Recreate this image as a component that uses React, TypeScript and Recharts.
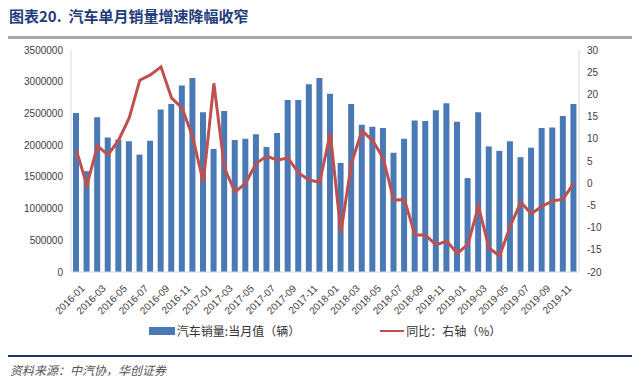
import { ComposedChart, Bar, Line, XAxis, YAxis, Legend } from "recharts"

const months = [
  "2016-01", "2016-02", "2016-03", "2016-04", "2016-05", "2016-06", "2016-07", "2016-08", "2016-09", "2016-10", "2016-11", "2016-12",
  "2017-01", "2017-02", "2017-03", "2017-04", "2017-05", "2017-06", "2017-07", "2017-08", "2017-09", "2017-10", "2017-11", "2017-12",
  "2018-01", "2018-02", "2018-03", "2018-04", "2018-05", "2018-06", "2018-07", "2018-08", "2018-09", "2018-10", "2018-11", "2018-12",
  "2019-01", "2019-02", "2019-03", "2019-04", "2019-05", "2019-06", "2019-07", "2019-08", "2019-09", "2019-10", "2019-11", "2019-12",
]

// 汽车销量:当月值（辆）
const sales = [
  2506000, 1590000, 2440000, 2120000, 2090000, 2060000, 1850000, 2070000, 2560000, 2650000, 2940000, 3060000,
  2520000, 1940000, 2540000, 2080000, 2100000, 2170000, 1970000, 2190000, 2710000, 2710000, 2960000, 3060000,
  2810000, 1720000, 2650000, 2320000, 2290000, 2270000, 1880000, 2100000, 2390000, 2380000, 2550000, 2660000,
  2370000, 1480000, 2520000, 1980000, 1910000, 2060000, 1810000, 1960000, 2270000, 2280000, 2460000, 2650000,
]

// 同比（%）
const yoy = [
  7.5, -0.5, 8.4, 6.4, 9.7, 14.7, 23.2, 24.4, 26.2, 19.2, 16.9, 10.4,
  0.2, 22.5, 3.4, -2.0, 0.0, 4.5, 6.1, 5.2, 5.7, 2.3, 0.7, 0.2,
  11.3, -11.1, 4.5, 11.8, 9.6, 5.6, -3.8, -3.7, -11.6, -11.7, -13.9, -13.0,
  -15.8, -13.8, -5.2, -14.6, -16.4, -9.7, -4.3, -6.9, -5.2, -4.0, -3.6, 0.0,
]

const leftTicks = [0, 500000, 1000000, 1500000, 2000000, 2500000, 3000000, 3500000]
const rightTicks = [-20, -15, -10, -5, 0, 5, 10, 15, 20, 25, 30]

const data = months.map((m, i) => ({ month: m, sales: sales[i], yoy: yoy[i] }))

const BLUE = "#4a7ab5"
const RED = "#c0504d"
const tickFont = { fontSize: 10, fill: "#404040", fontFamily: "Liberation Sans, Arial, sans-serif" }

const XTick = ({ x, y, payload }: any) => (
  <text
    x={x + 4}
    y={y + 4}
    transform={`rotate(-45 ${x + 4} ${y + 4})`}
    textAnchor="end"
    dominantBaseline="hanging"
    {...tickFont}
  >
    {payload.value}
  </text>
)

const LegendContent = () => (
  <div
    style={{
      display: "flex",
      justifyContent: "center",
      alignItems: "center",
      fontFamily: "Noto Sans CJK SC, sans-serif",
      fontSize: 12,
      color: "#333",
      paddingLeft: 50,
    }}
  >
    <span style={{ display: "inline-block", width: 26, height: 8, background: BLUE, marginRight: 2 }} />
    <span>汽车销量:当月值（辆）</span>
    <span style={{ display: "inline-block", width: 24, height: 2, background: RED, marginLeft: 80, marginRight: 2 }} />
    <span>同比：右轴（%）</span>
  </div>
)

export default function App() {
  return (
    <div style={{ position: "absolute", top: 0, left: 0, width: 640, height: 389, background: "#fff" }}>
      <div
        style={{
          position: "absolute",
          left: 9,
          top: 5,
          fontFamily: "Noto Sans CJK SC, sans-serif",
          fontWeight: 700,
          fontSize: 15,
          color: "#1f3d7a",
          whiteSpace: "nowrap",
        }}
      >
        图表20.&nbsp; 汽车单月销量增速降幅收窄
      </div>
      <div style={{ position: "absolute", left: 8, top: 36, width: 624, height: 3, background: "#a6a6a6" }} />

      <div style={{ position: "absolute", left: 0, top: 40 }}>
        <ComposedChart width={640} height={310} data={data} margin={{ top: 10, right: 46, bottom: 6, left: 6 }} barCategoryGap="45%">
          <XAxis
            dataKey="month"
            interval={1}
            tick={<XTick />}
            tickLine={false}
            axisLine={{ stroke: "#d9d9d9" }}
            height={50}
          />
          <YAxis
            yAxisId="left"
            domain={[0, 3500000]}
            ticks={leftTicks}
            tick={tickFont}
            tickLine={false}
            axisLine={{ stroke: "#d9d9d9" }}
            width={65}
            interval={0}
          />
          <YAxis
            yAxisId="right"
            orientation="right"
            domain={[-20, 30]}
            ticks={rightTicks}
            tick={tickFont}
            tickLine={false}
            axisLine={{ stroke: "#d9d9d9" }}
            width={15}
            interval={0}
          />
          <Legend verticalAlign="bottom" height={22} content={<LegendContent />} />
          <Bar yAxisId="left" dataKey="sales" fill={BLUE} barSize={6} isAnimationActive={false} />
          <Line
            yAxisId="right"
            dataKey="yoy"
            stroke={RED}
            strokeWidth={3}
            dot={false}
            type="linear"
            isAnimationActive={false}
          />
        </ComposedChart>
      </div>

      <div style={{ position: "absolute", left: 8, top: 355, width: 624, height: 2, background: "#1f3864" }} />
      <div
        style={{
          position: "absolute",
          left: 10,
          top: 361,
          fontFamily: "Noto Sans CJK SC, sans-serif",
          fontStyle: "italic",
          fontSize: 12,
          color: "#555",
          whiteSpace: "nowrap",
        }}
      >
        资料来源：中汽协，华创证券
      </div>
    </div>
  )
}
